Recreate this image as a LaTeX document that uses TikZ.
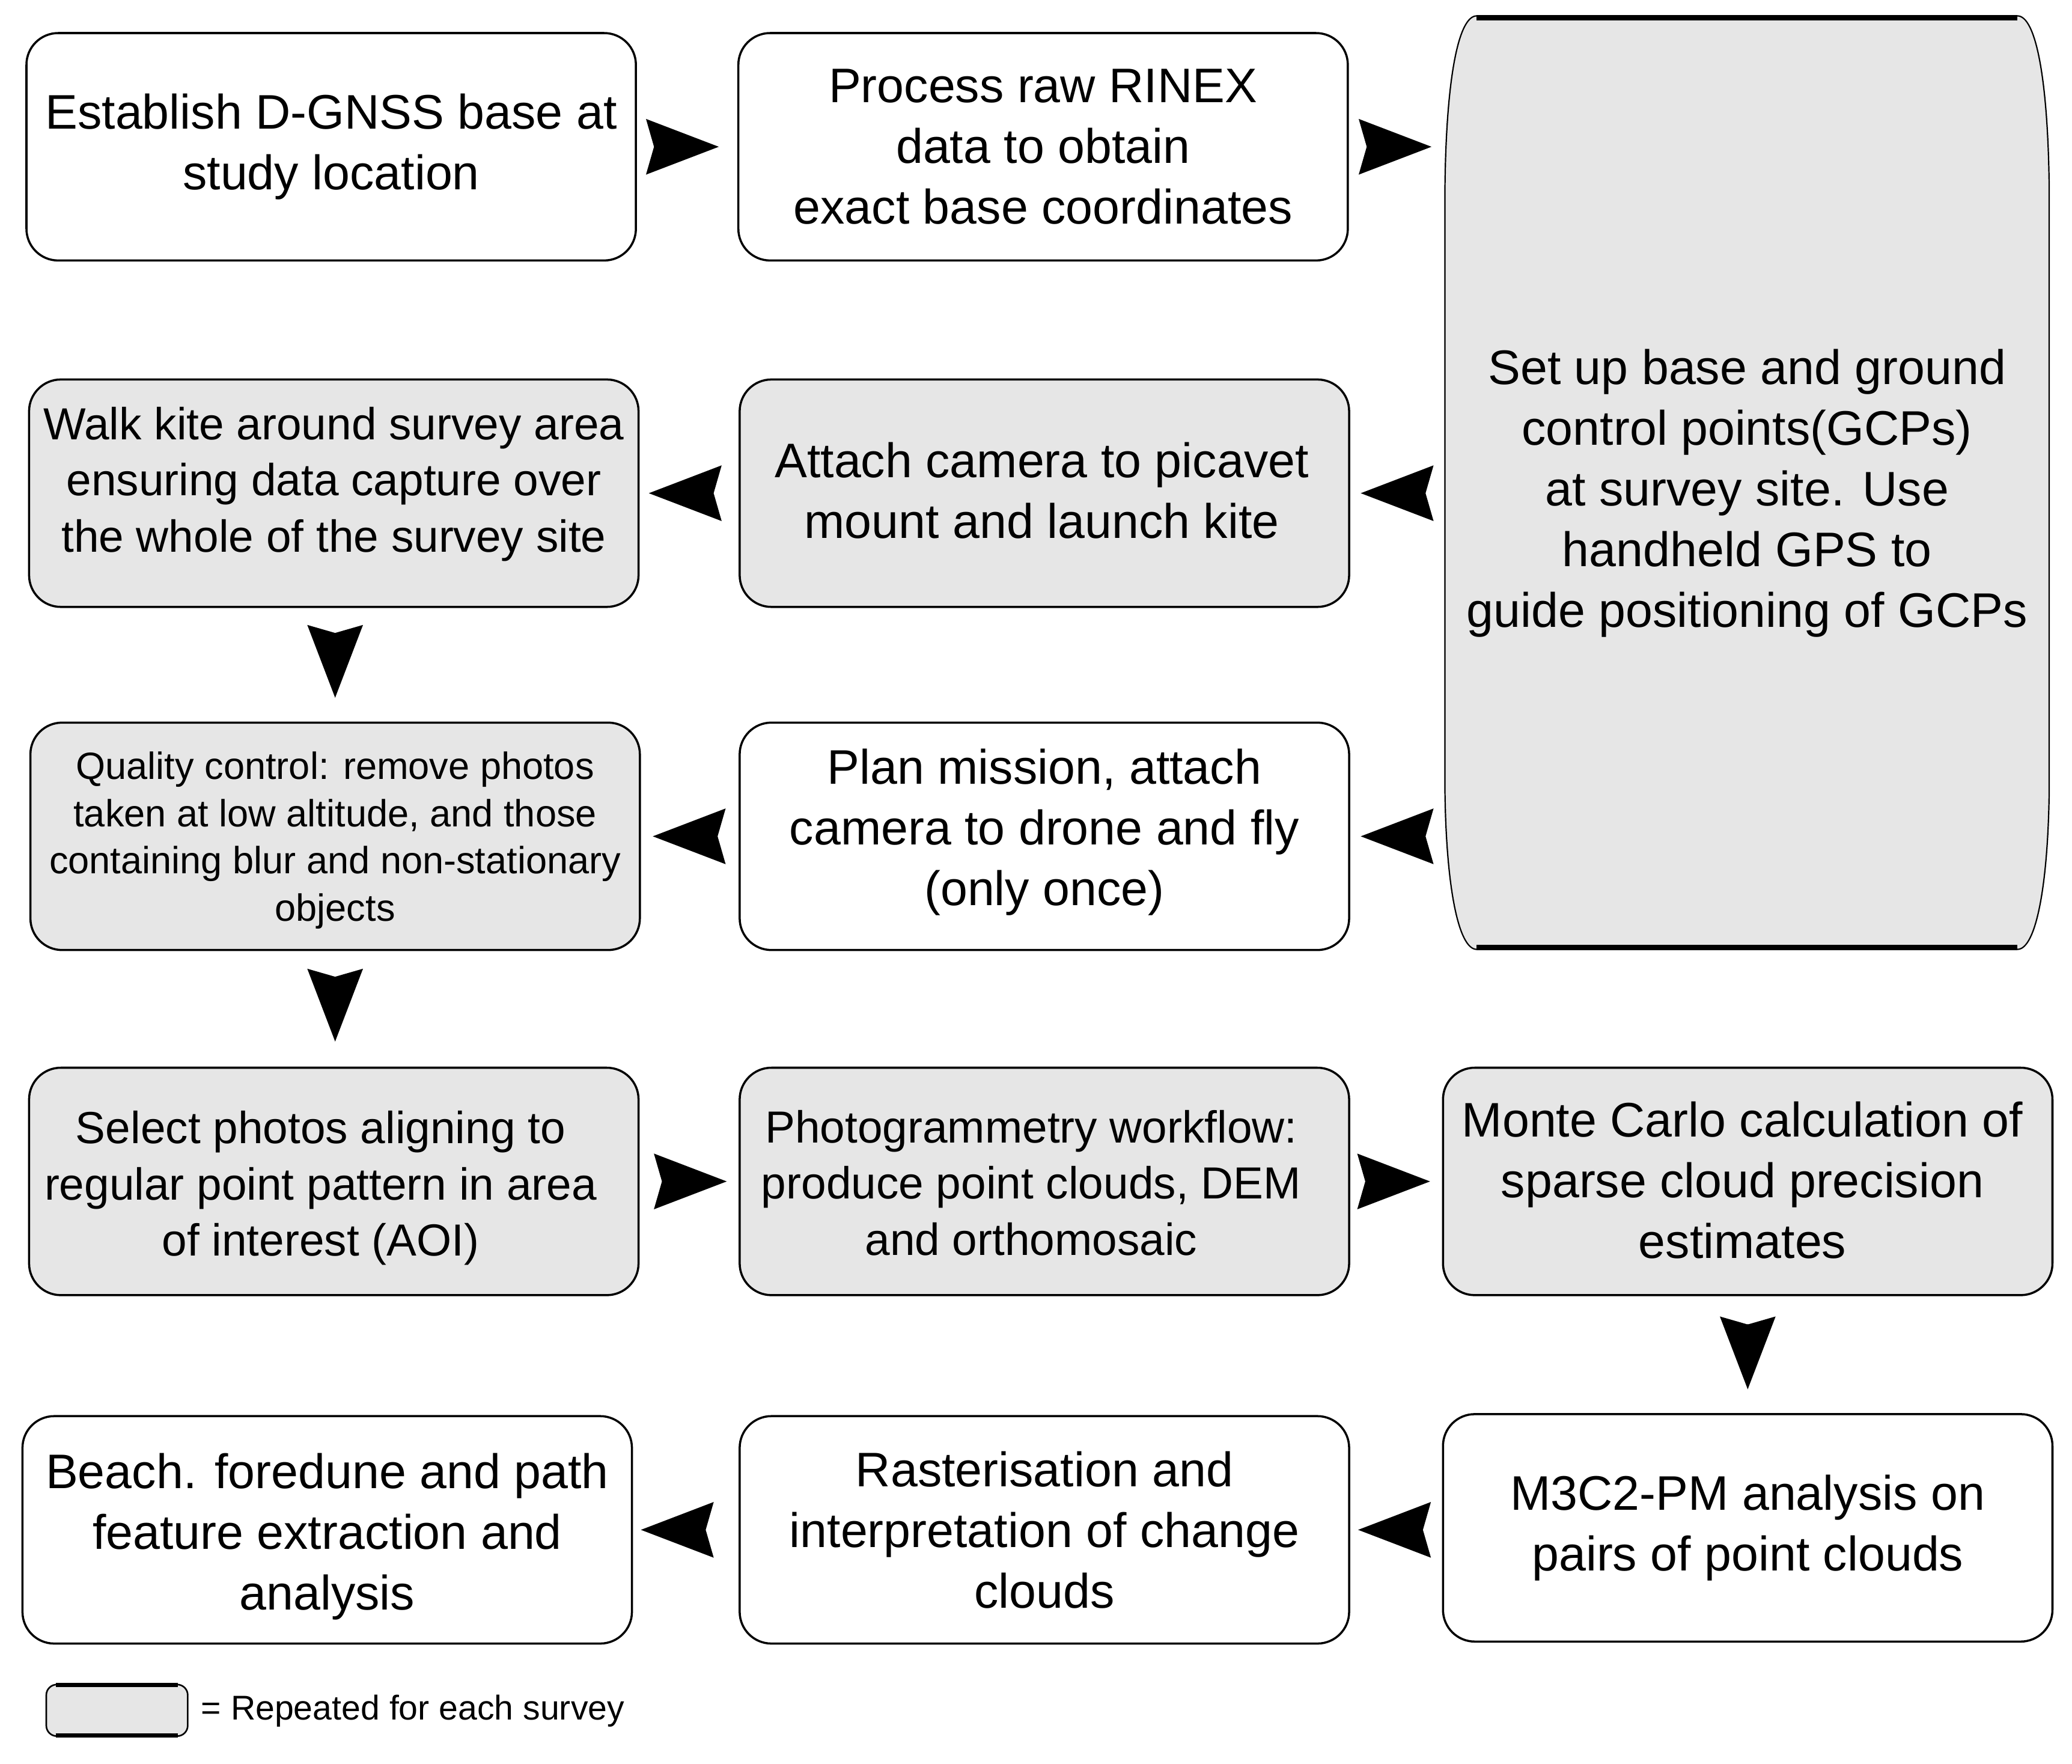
\documentclass[tikz,border=0pt]{standalone}
\usepackage{fontspec}
\setmainfont{Liberation Sans}
\usetikzlibrary{arrows.meta,calc}
\definecolor{boxgray}{RGB}{230,230,230}
\begin{document}
\begin{tikzpicture}[x=1pt,y=-1pt,
  big/.style={font=\fontsize{36.7}{46}\selectfont},
  mid/.style={font=\fontsize{34}{42.5}\selectfont},
  small/.style={font=\fontsize{28.7}{35.7}\selectfont},
  box/.style={draw, line width=1.6pt, rounded corners=24pt, minimum width=461pt,
    minimum height=172pt, align=center, inner sep=0pt, fill=white, big},
  gbox/.style={box, fill=boxgray},
  lbl/.style={align=center, inner sep=0pt},
  arr/.style={-{Stealth[length=55pt,width=42pt,inset=6pt]}, line width=0.8pt, line join=round}]
\useasboundingbox (0,0) rectangle (1567.3,1334.1);

% tall box shape
\path[fill=boxgray] (1117,12) -- (1526,12)
  .. controls (1540,12) and (1549,60) .. (1550,140) -- (1550,600)
  .. controls (1549,670) and (1540,718) .. (1526,718) -- (1117,718)
  .. controls (1103,718) and (1094,670) .. (1093,600) -- (1093,140)
  .. controls (1094,60) and (1103,12) .. (1117,12) -- cycle;
\draw[line width=1pt] (1117,12) -- (1526,12)
  .. controls (1540,12) and (1549,60) .. (1550,140) -- (1550,600)
  .. controls (1549,670) and (1540,718) .. (1526,718) -- (1117,718)
  .. controls (1103,718) and (1094,670) .. (1093,600) -- (1093,140)
  .. controls (1094,60) and (1103,12) .. (1117,12) -- cycle;
\draw[line width=4pt] (1117,13.5) -- (1526,13.5);
\draw[line width=4pt] (1117,716.5) -- (1526,716.5);
\node[align=center, inner sep=0pt, minimum width=457pt, minimum height=706pt, big] (tall) at (1321.5,373)
  {Set up base and ground\\control points(GCPs)\\at survey site. Use\\handheld GPS to\\guide positioning of GCPs};

% row 1
\node[box] (b1) at (250.5,111) {Establish D-GNSS base at\\study location};
\node[box] (b2) at (789,111) {Process raw RINEX\\data to obtain\\exact base coordinates};
% row 2
\node[gbox, label={[lbl, mid, yshift=7pt]center:{Walk kite around survey area\\ensuring data capture over\\the whole of the survey site}}] (walk) at (252.5,373) {};
\node[gbox, label={[lbl, big, yshift=2pt, xshift=-2pt]center:{Attach camera to picavet\\mount and launch kite}}] (attach) at (790,373) {};
% row 3
\node[gbox, label={[lbl, small, yshift=-3pt]center:{Quality control: remove photos\\taken at low altitude, and those\\containing blur and non-stationary\\objects}}] (qc) at (253.5,632.5) {};
\node[box, label={[lbl, big, yshift=3pt]center:{Plan mission, attach\\camera to drone and fly\\(only once)}}] (plan) at (790,632.5) {};
% row 4
\node[gbox, label={[lbl, mid, yshift=-5pt, xshift=-10pt]center:{Select photos aligning to\\regular point pattern in area\\of interest (AOI)}}] (select) at (252.5,893.5) {};
\node[gbox, label={[lbl, mid, yshift=-1pt, xshift=-10pt]center:{Photogrammetry workflow:\\produce point clouds, DEM\\and orthomosaic}}] (photo) at (790,893.5) {};
\node[gbox, label={[lbl, big, yshift=1pt, xshift=-4pt]center:{Monte Carlo calculation of\\sparse cloud precision\\estimates}}] (mc) at (1322,893.5) {};
% row 5
\node[box, label={[lbl, big, yshift=-5pt]center:{Beach. foredune and path\\feature extraction and\\analysis}}] (beach) at (247.5,1157) {};
\node[box] (rast) at (790,1157) {Rasterisation and\\interpretation of change\\clouds};
\node[box] (m3c2) at (1322,1155.5) {M3C2-PM analysis on\\pairs of point clouds};

% legend
\node[draw, line width=1.2pt, fill=boxgray, rounded corners=8pt, minimum width=107pt,
  minimum height=39pt, inner sep=0pt] (leg) at (88.5,1293.5) {};
\draw[line width=3pt] ([xshift=8pt,yshift=-1pt]leg.north west) -- ([xshift=-8pt,yshift=-1pt]leg.north east);
\draw[line width=3pt] ([xshift=8pt,yshift=1pt]leg.south west) -- ([xshift=-8pt,yshift=1pt]leg.south east);
\node[anchor=west, inner sep=0pt, font=\fontsize{26}{30}\selectfont] (legtxt) at (152,1294) {= Repeated for each survey};

% connectors
\draw[arr, shorten <=15pt, shorten >=14pt] (b1.east) -- (b2.west);
\draw[arr, shorten <=14pt, shorten >=10pt] (b2.east) -- (b2.east -| tall.west);
\draw[arr, shorten <=16pt, shorten >=8pt] (tall.west |- attach.east) -- (attach.east);
\draw[arr, shorten <=20pt, shorten >=7pt] (attach.west) -- (walk.east);
\draw[arr, shorten <=16pt, shorten >=8pt] (tall.west |- plan.east) -- (plan.east);
\draw[arr, shorten <=18pt, shorten >=9pt] (plan.west) -- (qc.east);
\draw[arr, shorten <=22pt, shorten >=18pt] (walk.south -| qc.north) -- (qc.north);
\draw[arr, shorten <=22pt, shorten >=19pt] (qc.south) -- (qc.south |- select.north);
\draw[arr, shorten <=19pt, shorten >=9pt] (select.east) -- (photo.west);
\draw[arr, shorten <=14pt, shorten >=9pt] (photo.east) -- (mc.west);
\draw[arr, shorten <=21pt, shorten >=18pt] (mc.south) -- (m3c2.north);
\draw[arr, shorten <=16pt, shorten >=6pt] (m3c2.west |- rast.east) -- (rast.east);
\draw[arr, shorten <=26pt, shorten >=6pt] (rast.west) -- (beach.east);
\end{tikzpicture}
\end{document}
